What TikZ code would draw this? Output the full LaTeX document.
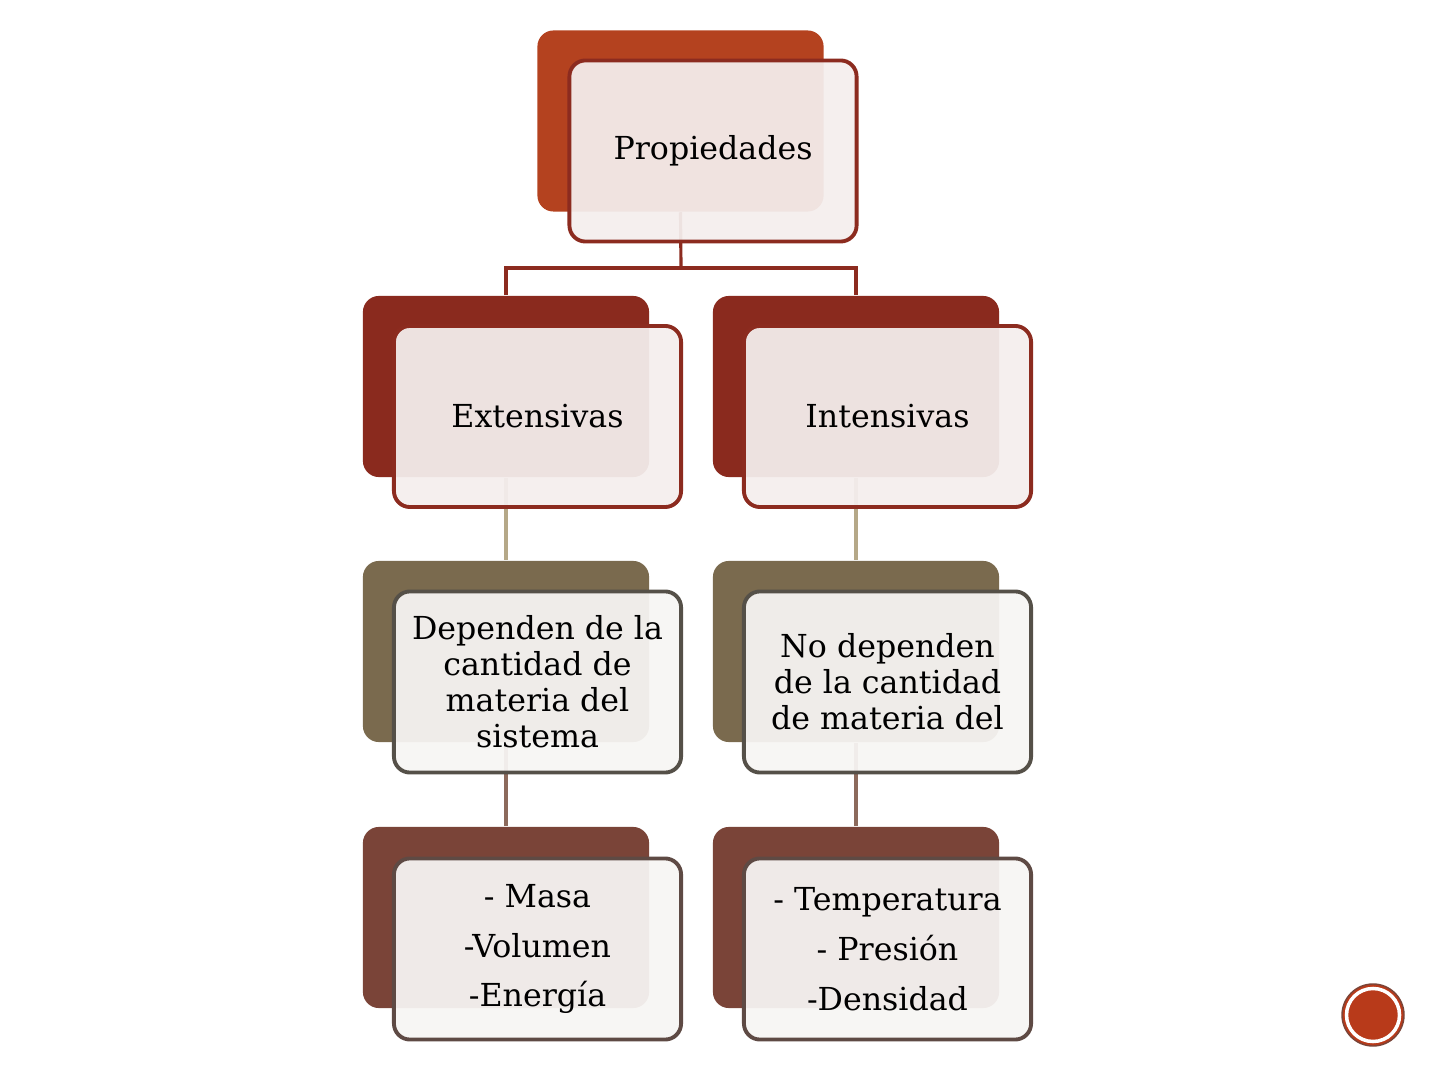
\documentclass[tikz,border=0pt]{standalone}
\usepackage{fontspec}
\setmainfont{DejaVu Serif}
\usetikzlibrary{positioning}
\definecolor{rustback}{HTML}{B4421F}
\definecolor{redback}{HTML}{8A2A1E}
\definecolor{tanback}{HTML}{7A6A4E}
\definecolor{brownback}{HTML}{7A4438}
\definecolor{redline}{HTML}{8C2B1F}
\definecolor{grayline}{HTML}{555048}
\definecolor{brownline}{HTML}{5E4A44}
\definecolor{pinkfill}{HTML}{F4EEED}
\definecolor{whitefill}{HTML}{F7F5F3}
\definecolor{tanlink}{HTML}{B5A888}
\definecolor{brownlink}{HTML}{8C6A5C}
\definecolor{dotred}{HTML}{B83A1A}
\begin{document}
\begin{tikzpicture}[x=0.01cm,y=-0.01cm,
    back/.style={fill=#1, rounded corners=1.6mm, minimum width=2.86cm,
      minimum height=1.81cm, inner sep=0pt},
    front/.style={draw=#1, line width=1.1pt, rounded corners=1.6mm,
      fill opacity=0.94, text opacity=1, minimum width=2.87cm,
      minimum height=1.81cm, inner sep=0pt, align=center,
      font=\fontsize{9}{10.2}\selectfont},
    link/.style={draw=#1, line width=0.9pt}]
  \useasboundingbox (0,0) rectangle (1440,1080);

  % back boxes, then the connectors, then the front boxes
  \coordinate (split) at (681,268);
  \node (propB) [back=rustback] at (680.5,121) {};
  \node (extB) [back=redback] at (506,386.5) {};
  \node (intB) [back=redback] at (856,386.5) {};
  \node (depB) [back=tanback] at (506,651.5) {};
  \node (nodepB) [back=tanback] at (856,651.5) {};
  \node (ejB) [back=brownback] at (506,917.5) {};
  \node (ej2B) [back=brownback] at (856,917.5) {};

  \draw[link=redline] (propB.south) -- (split);
  \draw[link=redline] (extB.north) |- (split) -| (intB.north);
  \draw[link=tanlink] (extB.south) -- (depB.north);
  \draw[link=tanlink] (intB.south) -- (nodepB.north);
  \draw[link=brownlink] (depB.south) -- (ejB.north);
  \draw[link=brownlink] (nodepB.south) -- (ej2B.north);

  \node (prop) [front=redline, fill=pinkfill] at (713,151) {Propiedades};
  \node (ext) [front=redline, fill=pinkfill] at (537.5,416.5) {Extensivas};
  \node (int) [front=redline, fill=pinkfill] at (887.5,416.5) {Intensivas};
  \node (dep) [front=grayline, fill=whitefill] at (537.5,682)
    {Dependen de la\\cantidad de\\materia del\\sistema};
  \node (nodep) [front=grayline, fill=whitefill] at (887.5,682)
    {No dependen\\de la cantidad\\de materia del};
  \node (ej) [front=brownline, fill=whitefill,
    font=\fontsize{9}{14.2}\selectfont] at (537.5,949)
    {- Masa\\-Volumen\\-Energía};
  \node (ej2) [front=brownline, fill=whitefill,
    font=\fontsize{9}{14.2}\selectfont] at (887.5,949)
    {- Temperatura\\- Presión\\-Densidad};

  \node (dot) [circle, fill=dotred, draw=brownback, line width=0.4pt,
    minimum size=0.62cm, inner sep=0pt] at (1373,1015) {};
  \draw[white, line width=1pt] (dot.center) circle (0.265cm);
\end{tikzpicture}
\end{document}
